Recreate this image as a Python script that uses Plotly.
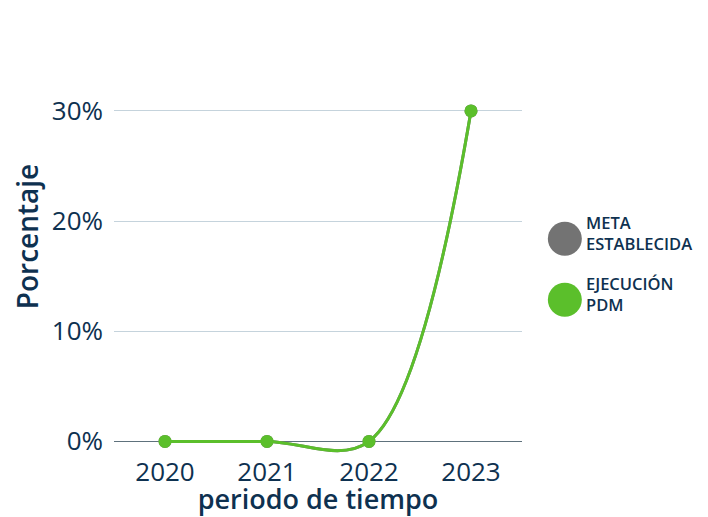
import plotly.graph_objects as go

years = ["2020", "2021", "2022", "2023"]
meta = [0, 0, 0, 30]
ejecucion = [0, 0, 0, 30]
series_names = ["META<br>ESTABLECIDA", "EJECUCIÓN<br>PDM"]
series_colors = ["#737373", "#5bbf2b"]
y_ticks = [0, 10, 20, 30]
y_ticktext = [str(v) + "%" for v in y_ticks]

text_color = "#0e3150"
font_name = "Open Sans"

fig = go.Figure()
for vals, name, color in zip([meta, ejecucion], series_names, series_colors):
    fig.add_trace(go.Scatter(
        x=years, y=vals, name=name, mode="lines+markers",
        line=dict(color=color, width=3, shape="spline", smoothing=1),
        marker=dict(color=color, size=13),
        showlegend=False,
    ))

# legend drawn by hand so the circles can be big
legend_y = [0.495, 0.358]
for yc, name, color in zip(legend_y, series_names, series_colors):
    fig.add_shape(type="circle", xref="paper", yref="paper",
                  xsizemode="pixel", ysizemode="pixel",
                  xanchor=1.105, yanchor=yc, x0=-17, x1=17, y0=-17, y1=17,
                  fillcolor=color, line=dict(width=0))
    fig.add_annotation(text=name, xref="paper", yref="paper", x=1.152, y=yc + 0.013,
                       xanchor="left", yanchor="middle", align="left",
                       showarrow=False,
                       font=dict(size=16.5, color=text_color, family=font_name, weight=600))

fig.update_layout(
    width=700, height=509,
    margin=dict(l=106, r=186, t=6, b=58),
    plot_bgcolor="white", paper_bgcolor="white",
    font=dict(family=font_name, color=text_color),
    xaxis=dict(
        title=dict(text="periodo de tiempo", font=dict(size=27, color=text_color, weight=600), standoff=8),
        tickfont=dict(size=26, color=text_color),
        range=[-0.5, 3.5], ticklabelstandoff=-5,
        showgrid=False, showline=False, ticks="", automargin=False,
    ),
    yaxis=dict(
        title=dict(text="Porcentaje", font=dict(size=28, color=text_color, weight=600), standoff=18),
        tickfont=dict(size=26, color=text_color),
        range=[-1.6, 38.8], tickvals=y_ticks, ticktext=y_ticktext,
        ticklabelstandoff=10,
        gridcolor="#c5d3dc", gridwidth=1,
        zeroline=True, zerolinecolor="#5e717c", zerolinewidth=1,
        showline=False, automargin=False,
    ),
)

fig.write_html("out.html")
